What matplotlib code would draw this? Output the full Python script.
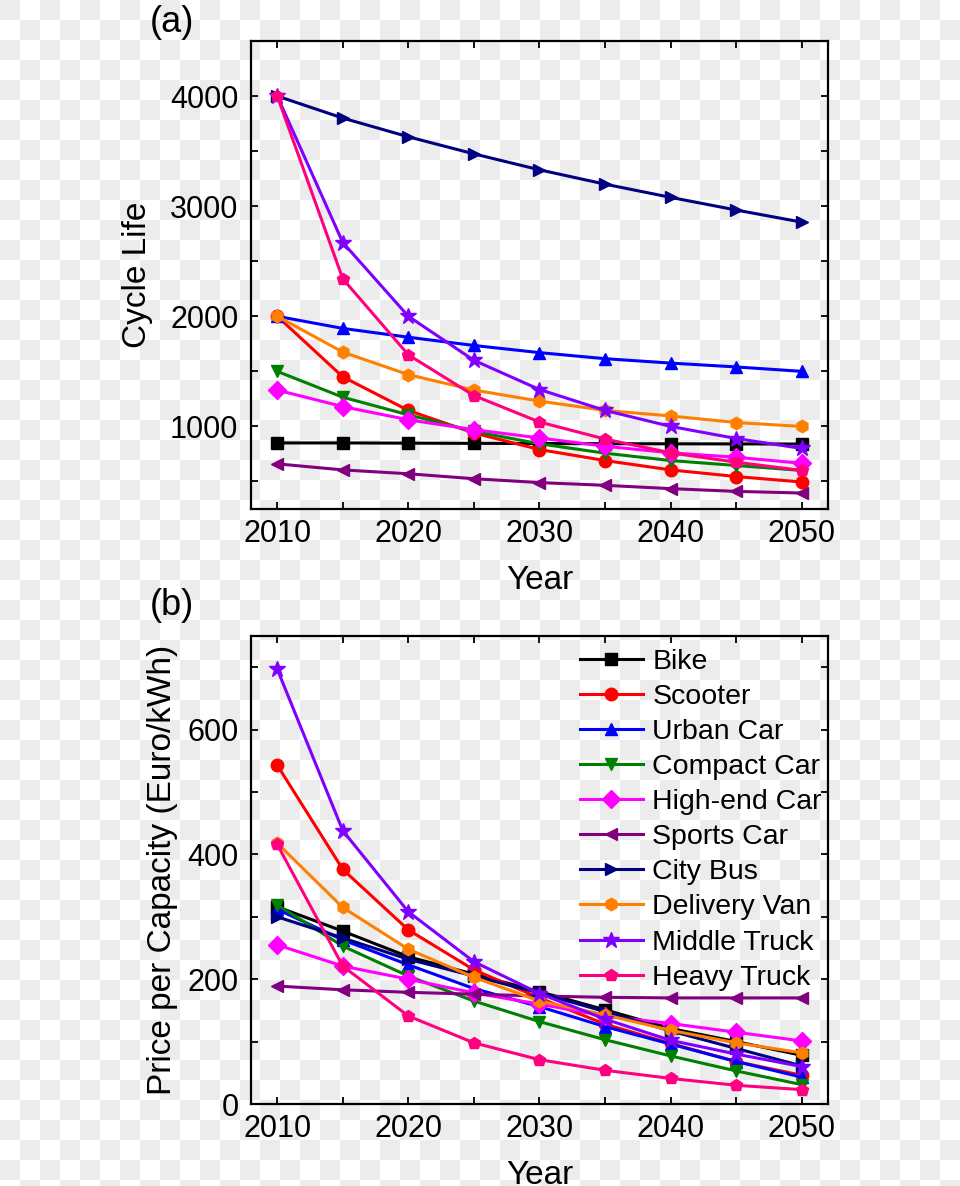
import matplotlib as mpl
import matplotlib.pyplot as plt
import numpy as np

mpl.rcParams['font.family'] = ['Liberation Sans', 'DejaVu Sans']

# データ
years = [2010, 2015, 2020, 2025, 2030, 2035, 2040, 2045, 2050]
names = ["Bike", "Scooter", "Urban Car", "Compact Car", "High-end Car",
         "Sports Car", "City Bus", "Delivery Van", "Middle Truck", "Heavy Truck"]
colors = ["#000000", "#FF0000", "#0000FF", "#008000", "#FF00FF",
          "#800080", "#000080", "#FF8000", "#8000FF", "#FF0080"]
markers = ["s", "o", "^", "v", "D", "<", ">", "h", "*", "p"]

# (a) サイクル寿命
cycle_bike = [850, 850, 848, 846, 845, 843, 842, 841, 840]
cycle_scooter = [2000, 1450, 1145, 940, 790, 690, 605, 545, 495]
cycle_urban = [2000, 1890, 1810, 1735, 1670, 1615, 1575, 1540, 1500]
cycle_compact = [1500, 1265, 1105, 955, 842, 757, 690, 645, 600]
cycle_highend = [1330, 1180, 1060, 970, 895, 820, 760, 720, 665]
cycle_sports = [660, 605, 570, 525, 490, 465, 435, 410, 395]
cycle_bus = [4000, 3800, 3630, 3475, 3330, 3200, 3080, 2965, 2855]
cycle_van = [2000, 1675, 1470, 1330, 1230, 1145, 1095, 1035, 1000]
cycle_mtruck = [4000, 2670, 2000, 1600, 1335, 1145, 1000, 890, 800]
cycle_htruck = [4000, 2340, 1650, 1280, 1040, 885, 760, 675, 600]

# (b) 容量あたり価格
price_bike = [316, 277, 236, 208, 180, 151, 121, 100, 78]
price_scooter = [543, 376, 279, 215, 170, 128, 97, 68, 46]
price_urban = [312, 263, 223, 185, 156, 124, 96, 68, 43]
price_compact = [319, 253, 205, 165, 132, 103, 77, 53, 31]
price_highend = [255, 221, 200, 178, 160, 141, 129, 115, 101]
price_sports = [189, 183, 179, 176, 173, 171, 170, 170, 170]
price_bus = [300, 266, 232, 205, 178, 148, 117, 89, 61]
price_van = [418, 315, 248, 203, 165, 143, 118, 98, 82]
price_mtruck = [697, 438, 308, 228, 177, 136, 102, 80, 60]
price_htruck = [416, 221, 141, 98, 71, 54, 41, 30, 23]

cycle = [cycle_bike, cycle_scooter, cycle_urban, cycle_compact, cycle_highend,
         cycle_sports, cycle_bus, cycle_van, cycle_mtruck, cycle_htruck]
price = [price_bike, price_scooter, price_urban, price_compact, price_highend,
         price_sports, price_bus, price_van, price_mtruck, price_htruck]

W, H = 960, 1186
fig = plt.figure(figsize=(W / 100, H / 100), dpi=100)

# 透過背景のチェック柄
yy, xx = np.mgrid[0:H, 0:W]
board = ((xx // 20 + yy // 20) % 2 == 0)
bg = np.ones((H, W, 3))
bg[board] = 0xEC / 255
fig.figimage(bg, xo=0, yo=0, origin='upper', zorder=-10)
fig.patch.set_alpha(0)

ax1 = fig.add_axes([251 / W, 1 - 509 / H, 577 / W, 468 / H])
ax2 = fig.add_axes([251 / W, 1 - 1104 / H, 577 / W, 468 / H])

for i in range(len(names)):
    ms = 12 if markers[i] == "*" else 9
    ax1.plot(years, cycle[i], color=colors[i], marker=markers[i], markersize=ms, linewidth=2.2)
    ax2.plot(years, price[i], color=colors[i], marker=markers[i], markersize=ms, linewidth=2.2,
             label=names[i])

for ax in (ax1, ax2):
    ax.set_facecolor('none')
    ax.set_xlim(2008, 2052)
    ax.set_xticks([2010, 2020, 2030, 2040, 2050])
    ax.set_xticks(np.arange(2015, 2050, 10), minor=True)
    ax.tick_params(which='both', direction='in', top=True, right=True,
                   length=5, width=1.3, labelsize=22)
    ax.tick_params(axis='x', pad=7)
    ax.tick_params(axis='y', pad=9)
    for s in ax.spines.values():
        s.set_linewidth(1.6)
    ax.set_xlabel("Year", fontsize=24)

ax1.set_ylim(250, 4500)
ax1.set_yticks([1000, 2000, 3000, 4000])
ax1.set_yticks([500, 1500, 2500, 3500], minor=True)
ax1.set_ylabel("Cycle Life", fontsize=24)
ax1.yaxis.set_label_coords(-0.170, 0.5)
ax1.xaxis.set_label_coords(0.5, -0.12)
ax1.text(-0.175, 1.04, "(a)", transform=ax1.transAxes, fontsize=26, va='center')

ax2.set_ylim(0, 750)
ax2.set_yticks([0, 200, 400, 600])
ax2.set_yticks([100, 300, 500, 700], minor=True)
ax2.set_ylabel("Price per Capacity (Euro/kWh)", fontsize=24)
ax2.yaxis.set_label_coords(-0.127, 0.5)
ax2.xaxis.set_label_coords(0.5, -0.12)
ax2.text(-0.175, 1.066, "(b)", transform=ax2.transAxes, fontsize=26, va='center')

ax2.legend(loc='upper left', bbox_to_anchor=(0.57, 0.973), frameon=False,
           fontsize=20.5, labelspacing=0.32, handlelength=2.2, handletextpad=0.35,
           borderpad=0, borderaxespad=0)

fig.savefig("out.png", dpi=100)
